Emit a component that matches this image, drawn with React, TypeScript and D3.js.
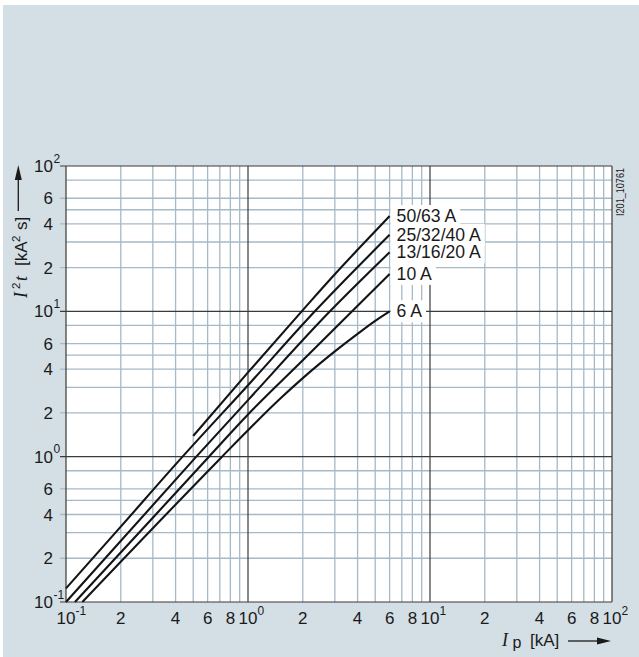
import React, { useEffect, useRef } from "react";
import * as d3 from "d3";

const W = 639;
const H = 657;

// Axes
const xDomain: [number, number] = [0.1, 100];
const yDomain: [number, number] = [0.1, 100];
const xMajorTicks = [0.1, 1, 10, 100];
const xMajorExponents = ["-1", "0", "1", "2"];
const yMajorTicks = [0.1, 1, 10, 100];
const yMajorExponents = ["-1", "0", "1", "2"];
const decades = [0.1, 1, 10];
const xMinorMultipliers = [2, 3, 4, 5, 6, 7, 8, 9];
const yMinorMultipliers = [2, 3, 4, 5, 6, 8];
const xLabeledMultipliers = [2, 4, 6, 8];
const yLabeledMultipliers = [2, 4, 6];

// Series (Ip in kA, I2t in kA²s)
const seriesNames = ["50/63 A", "25/32/40 A", "13/16/20 A", "10 A", "6 A"];
const ip_50_63 = [0.5, 1, 2, 3, 4, 6];
const i2t_50_63 = [1.39, 3.8, 10.2, 18, 26.5, 45.3];
const ip_25_40 = [0.1, 0.2, 0.437, 1, 2.33, 6];
const i2t_25_40 = [0.124, 0.33, 1, 3.1, 10, 33.6];
const ip_13_20 = [0.1, 0.52, 1, 2.82, 6];
const i2t_13_20 = [0.1, 1, 2.45, 10, 25.5];
const ip_10 = [0.112, 0.3, 0.61, 1, 2, 6];
const i2t_10 = [0.1, 0.38, 1, 1.95, 4.6, 18.1];
const ip_6 = [0.123, 0.72, 1, 1.5, 2, 3, 4, 5, 6];
const i2t_6 = [0.1, 1, 1.52, 2.5, 3.47, 5.3, 7.0, 8.6, 10];

const seriesIp = [ip_50_63, ip_25_40, ip_13_20, ip_10, ip_6];
const seriesI2t = [i2t_50_63, i2t_25_40, i2t_13_20, i2t_10, i2t_6];

const BG = "#d4dee5";
const MINOR = "#a6b9c7";
const MAJOR = "#3a3a3a";
const SANS = "'Liberation Sans', Arial, sans-serif";
const SERIF = "'Liberation Serif', 'Times New Roman', serif";

export default function App() {
  const ref = useRef<SVGSVGElement | null>(null);

  useEffect(() => {
    const svg = d3.select(ref.current);
    svg.selectAll("*").remove();

    const left = 66, right = 612, top = 166, bottom = 602;
    const x = d3.scaleLog().domain(xDomain).range([left, right]);
    const y = d3.scaleLog().domain(yDomain).range([bottom, top]);

    svg.append("rect").attr("width", W).attr("height", H).attr("fill", "#fff");
    svg.append("rect").attr("x", 3).attr("y", 5).attr("width", W - 3).attr("height", H - 5).attr("fill", BG);
    svg.append("rect").attr("x", left).attr("y", top).attr("width", right - left).attr("height", bottom - top).attr("fill", "#fff");

    const g = svg.append("g");
    // minor grid
    decades.forEach((d) => {
      xMinorMultipliers.forEach((m) => {
        const xv = x(d * m);
        g.append("line").attr("x1", xv).attr("x2", xv).attr("y1", top).attr("y2", bottom)
          .attr("stroke", MINOR).attr("stroke-width", 1.3);
      });
      yMinorMultipliers.forEach((m) => {
        const yv = y(d * m);
        const stub = yLabeledMultipliers.includes(m) ? 6 : 0;
        g.append("line").attr("x1", left - stub).attr("x2", right).attr("y1", yv).attr("y2", yv)
          .attr("stroke", MINOR).attr("stroke-width", 1.3);
      });
    });
    // major grid
    xMajorTicks.forEach((v) => {
      g.append("line").attr("x1", x(v)).attr("x2", x(v)).attr("y1", top).attr("y2", bottom)
        .attr("stroke", MAJOR).attr("stroke-width", 1.2);
    });
    yMajorTicks.forEach((v) => {
      g.append("line").attr("x1", left - 6).attr("x2", right).attr("y1", y(v)).attr("y2", y(v))
        .attr("stroke", MAJOR).attr("stroke-width", 1.2);
    });

    // label boxes + curves
    const line = d3.line<[number, number]>().x((d) => x(d[0])).y((d) => y(d[1])).curve(d3.curveMonotoneX);
    const labelG = svg.append("g");
    seriesNames.forEach((name, i) => {
      const ips = seriesIp[i];
      const vals = seriesI2t[i];
      const pts: [number, number][] = ips.map((v, k) => [v, vals[k]]);
      svg.append("path").attr("d", line(pts) as string).attr("fill", "none")
        .attr("stroke", "#141414").attr("stroke-width", 2.1);
      const xe = x(ips[ips.length - 1]);
      const ye = y(vals[vals.length - 1]);
      const rect = labelG.append("rect").attr("fill", "#fff");
      const t = labelG.append("text").attr("x", xe + 7).attr("y", ye + 6)
        .attr("font-family", SANS).attr("font-size", 17.6).attr("fill", "#1a1a1a").text(name);
      const len = (t.node() as SVGTextElement).getComputedTextLength();
      rect.attr("x", xe + 1).attr("y", ye - 11).attr("width", len + 10).attr("height", 22);
    });
    labelG.raise();

    // x tick labels
    const tx = svg.append("g").attr("font-family", SANS).attr("fill", "#1a1a1a");
    decades.forEach((d) => {
      xLabeledMultipliers.forEach((m) => {
        tx.append("text").attr("x", x(d * m)).attr("y", 624).attr("text-anchor", "middle")
          .attr("font-size", 17).text(String(m));
      });
    });
    xMajorTicks.forEach((v, i) => {
      const t = tx.append("text").attr("x", x(v) - 9.5).attr("y", 624).attr("font-size", 17);
      t.append("tspan").text("10");
      t.append("tspan").attr("dy", -9).attr("font-size", 12).text(xMajorExponents[i]);
    });

    // y tick labels
    decades.forEach((d) => {
      yLabeledMultipliers.forEach((m) => {
        tx.append("text").attr("x", 53).attr("y", y(d * m) + 6).attr("text-anchor", "end")
          .attr("font-size", 17).text(String(m));
      });
    });
    yMajorTicks.forEach((v, i) => {
      tx.append("text").attr("x", 53).attr("y", y(v) + 6).attr("text-anchor", "end")
        .attr("font-size", 17).text("10");
      tx.append("text").attr("x", 53.5).attr("y", y(v) - 3.5).attr("font-size", 12).text(yMajorExponents[i]);
    });

    // y axis title (rotated)
    const yt = svg.append("g").attr("transform", "translate(27,0) rotate(-90)").attr("fill", "#1a1a1a");
    yt.append("text").attr("x", -298).attr("y", 0).attr("font-family", SERIF).attr("font-style", "italic").attr("font-size", 18).text("I");
    yt.append("text").attr("x", -289).attr("y", -7).attr("font-family", SANS).attr("font-size", 11.5).text("2");
    yt.append("text").attr("x", -281).attr("y", 0).attr("font-family", SERIF).attr("font-style", "italic").attr("font-size", 18).text("t");
    yt.append("text").attr("x", -266).attr("y", 0).attr("font-family", SANS).attr("font-size", 17).text("[kA");
    yt.append("text").attr("x", -242).attr("y", -7).attr("font-family", SANS).attr("font-size", 11.5).text("2");
    yt.append("text").attr("x", -230).attr("y", 0).attr("font-family", SANS).attr("font-size", 17).text("s]");
    svg.append("line").attr("x1", 18.3).attr("x2", 18.3).attr("y1", 211).attr("y2", 178)
      .attr("stroke", "#1a1a1a").attr("stroke-width", 1.3);
    svg.append("path").attr("d", "M18.3,165 L14.8,180 L21.8,180 Z").attr("fill", "#1a1a1a");

    // x axis title
    const xt = svg.append("g").attr("fill", "#1a1a1a");
    xt.append("text").attr("x", 502).attr("y", 646).attr("font-family", SERIF).attr("font-style", "italic").attr("font-size", 18).text("I");
    xt.append("text").attr("x", 512.5).attr("y", 648).attr("font-family", SANS).attr("font-size", 16).text("p");
    xt.append("text").attr("x", 530).attr("y", 646).attr("font-family", SANS).attr("font-size", 17).text("[kA]");
    svg.append("line").attr("x1", 568).attr("x2", 600).attr("y1", 641).attr("y2", 641)
      .attr("stroke", "#1a1a1a").attr("stroke-width", 1.3);
    svg.append("path").attr("d", "M611,641 L597,637.5 L597,644.5 Z").attr("fill", "#1a1a1a");

    // figure id
    svg.append("text").attr("transform", "translate(624,216) rotate(-90)")
      .attr("font-family", SANS).attr("font-size", 10.5).attr("textLength", 48).attr("lengthAdjust", "spacingAndGlyphs")
      .attr("fill", "#1a1a1a").text("I201_10761");
  }, []);

  return (
    <div style={{ position: "absolute", left: 0, top: 0 }}>
      <svg ref={ref} width={W} height={H} style={{ display: "block" }} />
    </div>
  );
}
